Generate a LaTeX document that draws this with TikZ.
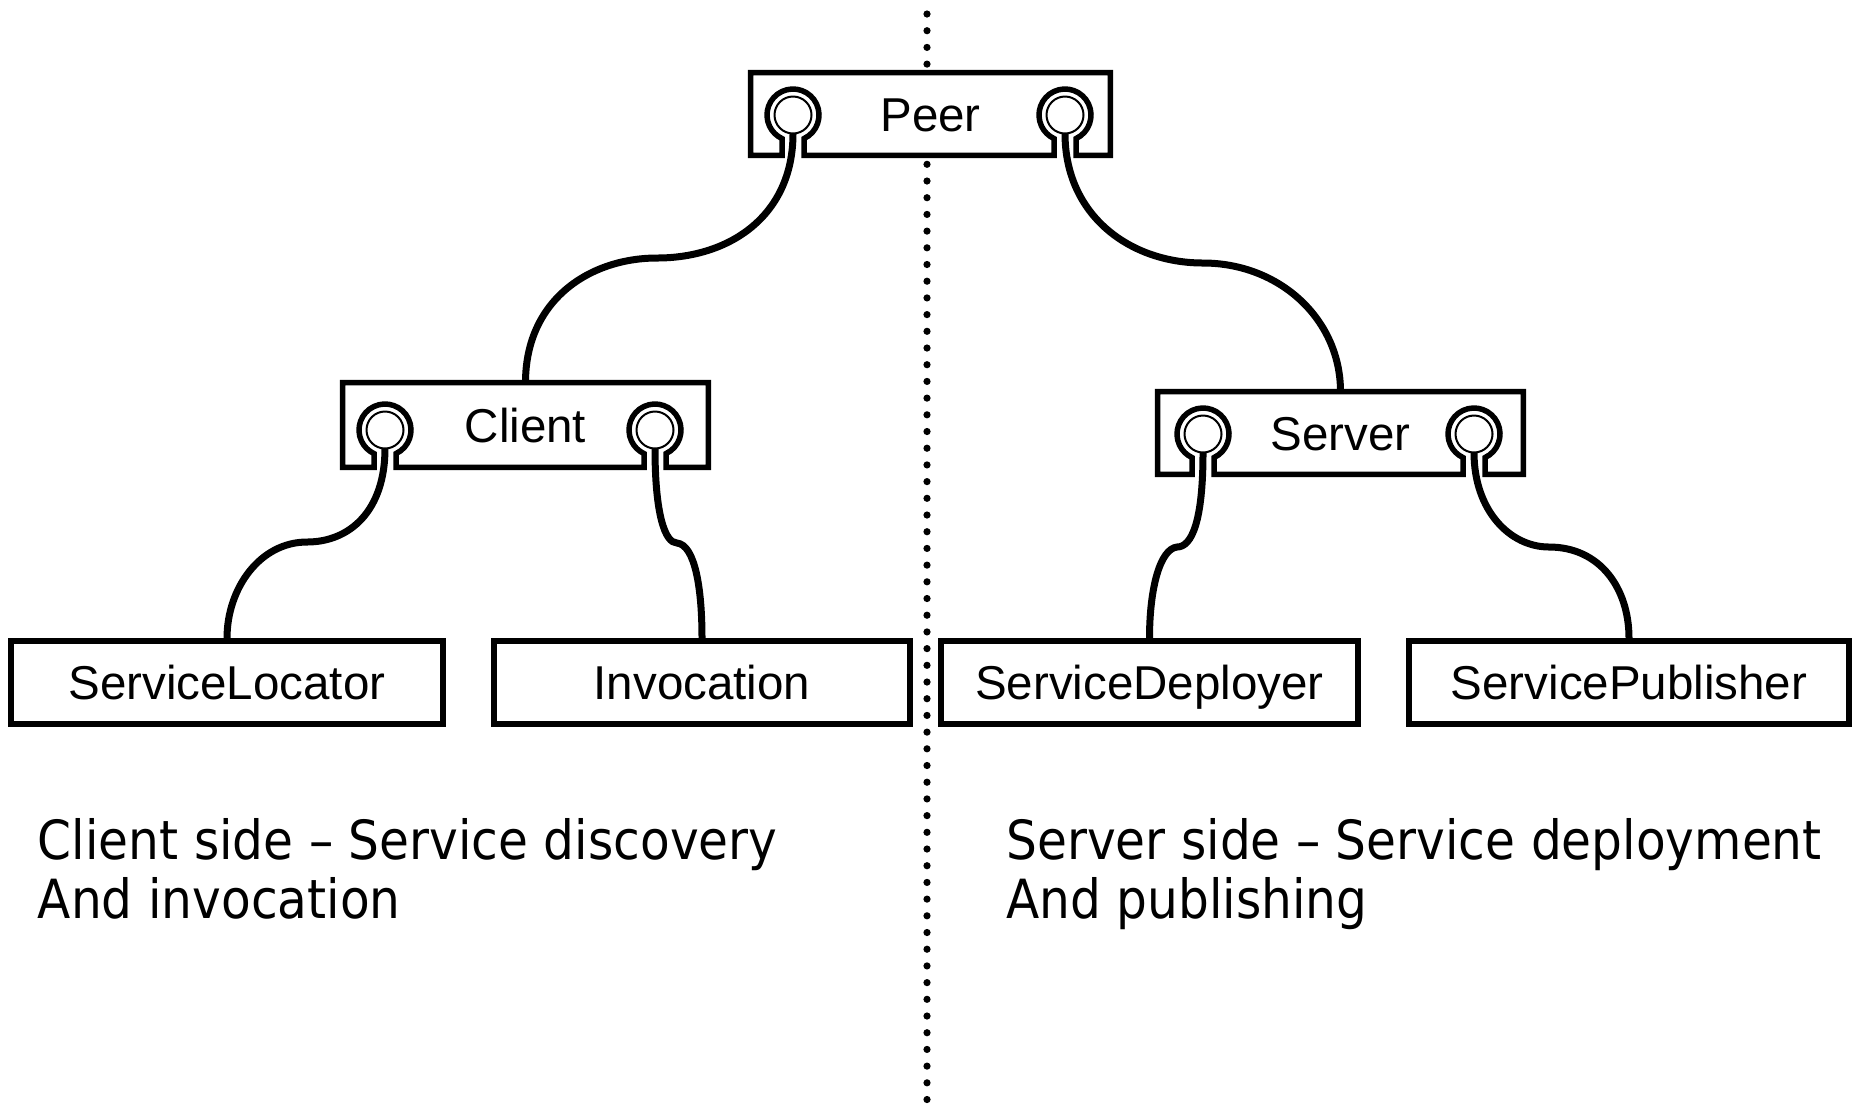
\documentclass[tikz,border=0pt]{standalone}
\usepackage{fontspec}
\setmainfont{Liberation Sans}
\newfontfamily\notefont[FakeStretch=0.9]{DejaVu Sans}
\usetikzlibrary{calc,backgrounds}

% outline of a component box with two jack sockets cut into its lower edge
% #1 node, #2 left jack, #3 right jack
\newcommand{\jackoutline}[3]{%
  \path[outline] let \p1=(#1.south west), \p2=(#1.north east), \p3=(#2), \p4=(#3) in
    (\x1,\y1) -- (\x1,\y2) -- (\x2,\y2) -- (\x2,\y1)
    -- (\x4+5.5pt,\y1) -- ($(#3)+(11,23.56)$)
       arc[start angle=-64.97, end angle=244.97, radius=13pt]
    -- (\x4-5.5pt,\y1)
    -- (\x3+5.5pt,\y1) -- ($(#2)+(11,23.56)$)
       arc[start angle=-64.97, end angle=244.97, radius=13pt]
    -- (\x3-5.5pt,\y1) -- cycle;}

\begin{document}
\begin{tikzpicture}[x=0.5pt,y=-0.5pt,
  lbl/.style={font=\fontsize{23.75}{28}\selectfont, text height=17pt, text depth=0pt, inner sep=0pt},
  sockbox/.style={lbl},
  plainbox/.style={lbl, draw, line width=2.75pt, fill=white, minimum height=41.5pt},
  outline/.style={draw, fill=white, line width=2.75pt},
  wire/.style={line width=3.5pt},
  jack/.style={line width=1pt},
  note/.style={font=\notefont\fontsize{27}{32}\selectfont, anchor=base west, inner sep=0pt},
  divider/.style={line width=3.6pt, line cap=round, dash pattern=on 0pt off 8.35pt}]

\useasboundingbox (0,0) rectangle (1856,1116);

% components
\node[sockbox, minimum width=179.5pt, minimum height=41pt] (peer)   at (930.5,114) {Peer};
\node[sockbox, minimum width=182.5pt, minimum height=42pt] (client) at (525.5,425) {Client};
\node[sockbox, minimum width=182.5pt, minimum height=41pt] (server) at (1340.5,433) {Server};

\node[plainbox, minimum width=216pt]   (locator)    at (227,682.5)    {ServiceLocator};
\node[plainbox, minimum width=208pt]   (invocation) at (702,682.5)    {Invocation};
\node[plainbox, minimum width=208.5pt] (deployer)   at (1149.5,682.5) {ServiceDeployer};
\node[plainbox, minimum width=220pt]   (publisher)  at (1629,682.5)   {ServicePublisher};

% jack centres
\coordinate (peerL)   at (793,115);
\coordinate (peerR)   at (1065,115);
\coordinate (clientL) at (385,430);
\coordinate (clientR) at (655,430);
\coordinate (serverL) at (1203,434);
\coordinate (serverR) at (1474,434);

% dividing line and box outlines behind the labels
\begin{pgfonlayer}{background}
  \coordinate (divtop) at (927,14);
  \coordinate (divbot) at (927,1116);
  \draw[divider] (divtop) -- (divbot);
  \jackoutline{peer}{peerL}{peerR}
  \jackoutline{client}{clientL}{clientR}
  \jackoutline{server}{serverL}{serverR}
\end{pgfonlayer}

% inner jack rings
\foreach \j in {peerL,peerR,clientL,clientR,serverL,serverR}
  \draw[jack] (\j) circle[radius=9.25pt];

% cable bends
\coordinate (w1) at (657,258);
\coordinate (w2) at (1203,263);
\coordinate (w3) at (307,542);
\coordinate (w4) at (677,543);
\coordinate (w5) at (1177,547);
\coordinate (w6) at (1549,547);

% cables
\draw[wire] ($(peerL)+(0,18.5)$) .. controls +(0,82) and +(73,0) .. (w1)
  .. controls +(-67,0) and +(0,-83) .. (client.north);
\draw[wire] ($(peerR)+(0,18.5)$) .. controls +(0,82) and +(-73,0) .. (w2)
  .. controls +(77,0) and +(0,-72) .. (server.north);
\draw[wire] ($(clientL)+(0,18.5)$) .. controls +(0,62) and +(43,0) .. (w3)
  .. controls +(-47,0) and +(0,-50) .. (locator.north);
\draw[wire] ($(clientR)+(0,18.5)$) .. controls +(0,66) and +(-12,0) .. (w4)
  .. controls +(18,2) and +(0,-50) .. (invocation.north);
\draw[wire] ($(serverL)+(0,18.5)$) .. controls +(0,68) and +(15,0) .. (w5)
  .. controls +(-17,2) and +(0,-50) .. (deployer.north);
\draw[wire] ($(serverR)+(0,18.5)$) .. controls +(0,58) and +(-39,0) .. (w6)
  .. controls +(51,0) and +(0,-50) .. (publisher.north);

% captions
\node[note] (cnote1) at (37.5,859.5)   {Client side – Service discovery};
\node[note] (cnote2) at (37.5,918.5)   {And invocation};
\node[note] (snote1) at (1006,859.5)   {Server side – Service deployment};
\node[note] (snote2) at (1006,918.5)   {And publishing};
\end{tikzpicture}
\end{document}
